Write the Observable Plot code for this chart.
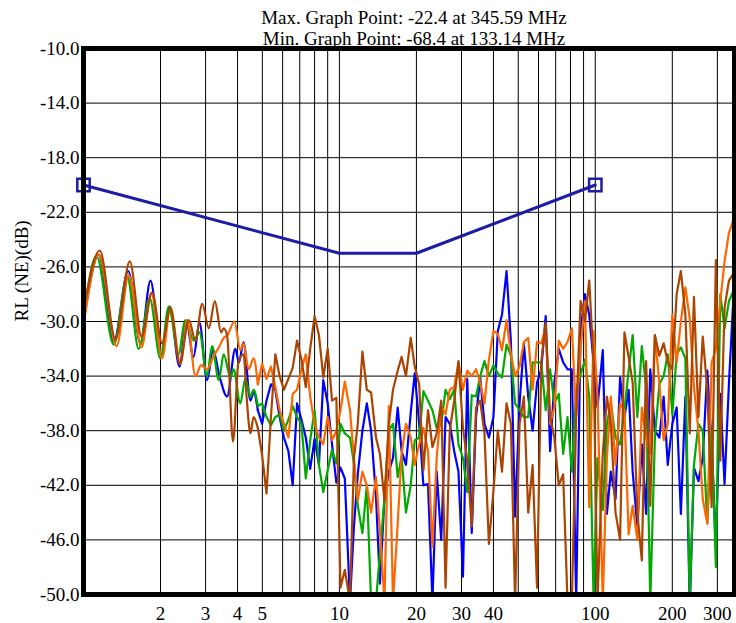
<!DOCTYPE html>
<html><head><meta charset="utf-8">
<script src="https://cdn.jsdelivr.net/npm/d3@7"></script>
<script src="https://cdn.jsdelivr.net/npm/@observablehq/plot@0.6"></script>
<style>html,body{margin:0;padding:0;background:#fff;}</style>
</head><body><div id="chart"></div>
<script>
const titleLines = ["Max. Graph Point: -22.4 at 345.59 MHz", "Min. Graph Point: -68.4 at 133.14 MHz"];
const yLabel = "RL (NE)(dB)";
const yTicks = [-10, -14, -18, -22, -26, -30, -34, -38, -42, -46, -50];
const xTickLabels = [2, 3, 4, 5, 10, 20, 30, 40, 100, 200, 300];
const xGrid = [2, 3, 4, 5, 6, 7, 8, 9, 10, 20, 30, 40, 50, 60, 70, 80, 90, 100, 200, 300];
const limitFreq = [1, 10, 20, 100];
const limitDb = [-20, -25, -25, -20];
const limitMarkerFreq = [1, 100];
const limitMarkerDb = [-20, -20];

// shared frequency grid (MHz) for the noisy part of the sweep
const freqHi = [
  4.80, 4.99, 5.19, 5.40, 5.62, 5.84, 6.07, 6.32, 6.57, 6.83,
  7.11, 7.39, 7.69, 8.00, 8.32, 8.65, 9.00, 9.36, 9.73, 10.1,
  10.5, 11.0, 11.4, 11.8, 12.3, 12.8, 13.3, 13.9, 14.4, 15.0,
  15.6, 16.2, 16.9, 17.5, 18.2, 19.0, 19.7, 20.5, 21.3, 22.2,
  23.1, 24.0, 25.0, 26.0, 27.0, 28.1, 29.2, 30.4, 31.6, 32.9,
  34.2, 35.5, 36.9, 38.4, 40.0, 41.6, 43.2, 45.0, 46.8, 48.6,
  50.6, 52.6, 54.7, 56.9, 59.2, 61.5, 64.0, 66.6, 69.2, 72.0,
  74.9, 77.9, 81.0, 84.2, 87.6, 91.1, 94.7, 98.5, 102, 107,
  111, 115, 120, 125, 130, 135, 140, 146, 152, 158,
  164, 171, 178, 185, 192, 200, 208, 216, 225, 234,
  243, 253, 263, 274, 285, 296, 308, 320, 333, 346
];

// low-frequency ripple: [MHz, dB] at peaks and troughs
const blueLo = [[1.00,-30.1],[1.147,-25.1],[1.313,-31.5],[1.495,-26.3],[1.670,-31.6],[1.827,-27.0],[2.016,-32.5],[2.174,-28.9],[2.371,-33.3],[2.525,-30.0],[2.69,-32.6],[2.84,-30.1],[3.04,-34.3],[3.21,-32.1],[3.40,-34.0],[3.64,-35.5],[3.92,-32.0],[4.05,-33.0],[4.22,-31.5],[4.49,-35.8],[4.62,-35.2]];
const greenLo = [[1.00,-29.7],[1.124,-25.2],[1.313,-31.7],[1.481,-26.7],[1.644,-32.0],[1.815,-28.3],[1.997,-32.7],[2.154,-28.9],[2.35,-32.4],[2.50,-29.9],[2.70,-31.4],[2.84,-30.8],[3.04,-34.0],[3.18,-31.8],[3.38,-34.3],[3.53,-32.4],[3.75,-34.1],[3.86,-33.5],[4.10,-36.0],[4.29,-34.2],[4.49,-35.5],[4.62,-35.0]];
const orangeLo = [[1.00,-30.3],[1.147,-25.1],[1.346,-31.8],[1.503,-26.6],[1.685,-31.9],[1.843,-27.9],[2.029,-32.7],[2.187,-29.0],[2.392,-33.1],[2.54,-29.9],[2.74,-34.0],[2.88,-33.2],[3.04,-33.5],[3.23,-32.5],[3.38,-31.9],[3.53,-31.2],[3.65,-31.0],[3.89,-30.0],[4.10,-32.1],[4.22,-31.6],[4.42,-33.5],[4.62,-32.7]];
const brownLo = [[1.00,-29.3],[1.158,-24.8],[1.333,-31.3],[1.517,-25.6],[1.685,-31.1],[1.854,-27.9],[2.029,-31.6],[2.187,-29.0],[2.378,-33.1],[2.58,-29.9],[2.74,-31.4],[2.91,-28.7],[3.09,-30.5],[3.26,-28.5],[3.45,-30.8],[3.53,-30.5],[3.64,-31.0],[3.84,-38.8],[4.03,-33.0],[4.22,-32.4],[4.35,-35.8],[4.49,-38.2],[4.62,-37.0]];

// values on freqHi
const blueHi = [
  -36.5, -37.5, -35.8, -34.6, -35.0, -37.0, -38.5, -39.5, -42.0, -36.0,
  -37.2, -38.5, -40.8, -38.6, -40.5, -34.3, -36.0, -39.0, -41.8, -40.7,
  -41.5, -50.5, -45.0, -41.2, -38.0, -36.0, -38.0, -42.8, -49.2, -43.0,
  -41.0, -40.0, -36.3, -39.5, -40.5, -36.7, -33.8, -37.5, -42.0, -41.9,
  -50.5, -41.0, -46.0, -37.0, -37.5, -39.5, -41.0, -48.7, -34.2, -45.5,
  -37.0, -34.1, -37.5, -38.5, -37.0, -30.7, -29.5, -26.3, -31.5, -44.3,
  -36.0, -31.6, -35.5, -38.0, -34.5, -33.5, -29.6, -39.5, -34.5, -32.0,
  -33.0, -33.5, -33.5, -50.5, -30.7, -28.0, -29.5, -33.0, -36.3, -32.1,
  -44.1, -41.0, -43.0, -34.1, -37.0, -35.0, -41.0, -45.0, -39.0, -44.1,
  -33.5, -38.0, -38.5, -35.5, -40.5, -37.5, -36.3, -44.1, -35.5, -51.0,
  -40.7, -41.7, -40.0, -33.6, -39.0, -46.5, -35.3, -41.9, -34.5, -28.5
];
const greenHi = [
  -36.2, -36.0, -37.0, -37.6, -37.0, -36.8, -38.0, -37.2, -36.2, -37.0,
  -37.5, -41.5, -38.7, -36.5, -40.5, -42.5, -40.9, -39.4, -40.4, -37.5,
  -38.2, -38.5, -40.4, -43.5, -45.5, -42.0, -50.5, -50.5, -47.0, -43.0,
  -38.0, -37.5, -41.4, -39.9, -44.0, -42.0, -38.7, -38.5, -35.1, -35.8,
  -36.5, -37.8, -37.5, -35.0, -35.7, -35.0, -39.0, -40.0, -42.5, -35.4,
  -35.5, -34.0, -32.9, -34.0, -33.2, -33.8, -34.1, -31.7, -32.5, -36.0,
  -36.5, -37.0, -37.0, -33.0, -33.0, -33.0, -36.5, -33.5, -36.0, -35.3,
  -39.7, -37.0, -41.0, -35.0, -33.9, -32.8, -35.5, -50.5, -40.0, -43.8,
  -37.5, -36.0, -38.5, -39.0, -36.5, -33.6, -31.0, -37.0, -31.8, -34.8,
  -50.5, -38.5, -34.6, -34.0, -32.4, -36.8, -32.4, -31.9, -32.7, -50.5,
  -40.5, -37.5, -38.0, -44.8, -38.0, -48.0, -28.0, -30.5, -28.5, -27.8
];
const orangeHi = [
  -34.6, -33.1, -34.2, -33.3, -34.8, -36.5, -37.5, -38.5, -35.3, -35.0,
  -33.5, -32.4, -35.5, -37.5, -38.5, -39.0, -37.0, -38.7, -38.0, -36.5,
  -34.4, -36.5, -40.0, -43.1, -41.0, -42.0, -44.0, -41.4, -45.3, -50.5,
  -36.2, -50.5, -44.8, -39.7, -37.5, -38.5, -40.5, -39.0, -37.8, -39.5,
  -46.5, -40.0, -36.2, -36.8, -35.0, -34.8, -33.0, -35.0, -33.6, -34.0,
  -33.5, -34.5, -36.0, -32.8, -30.7, -30.9, -32.1, -29.9, -32.4, -34.0,
  -33.3, -31.5, -31.2, -35.0, -31.5, -31.6, -30.4, -37.5, -36.3, -31.4,
  -32.0, -31.5, -30.5, -37.0, -32.0, -28.5, -43.6, -30.7, -35.5, -50.5,
  -40.0, -35.5, -40.5, -36.0, -36.5, -45.6, -43.5, -46.0, -36.3, -38.5,
  -39.7, -31.0, -34.5, -38.7, -37.5, -29.5, -33.0, -30.0, -27.5, -29.8,
  -34.8, -38.0, -43.0, -44.8, -33.0, -32.0, -28.5, -25.6, -23.5, -22.6
];
const brownHi = [
  -37.8, -39.8, -42.6, -37.0, -32.4, -34.0, -35.0, -34.2, -33.4, -31.4,
  -32.8, -34.8, -32.0, -29.6, -31.0, -34.1, -32.0, -35.8, -35.6, -49.5,
  -48.2, -50.5, -40.0, -37.5, -32.2, -35.0, -35.2, -38.5, -39.7, -43.1,
  -37.5, -35.0, -33.6, -32.6, -34.0, -31.2, -33.3, -34.6, -40.9, -36.5,
  -39.2, -38.2, -35.8, -49.5, -38.0, -35.8, -32.9, -37.8, -40.2, -45.0,
  -36.3, -35.8, -38.2, -46.3, -42.4, -38.0, -41.0, -36.0, -37.5, -50.5,
  -37.5, -35.5, -44.0, -40.5, -49.5, -33.0, -30.1, -37.0, -38.5, -42.0,
  -41.2, -50.5, -50.5, -37.0, -28.5, -30.0, -27.0, -33.0, -50.5, -39.7,
  -35.5, -37.5, -44.0, -46.0, -30.8, -32.6, -34.5, -44.0, -47.5, -32.9,
  -43.5, -31.0, -32.5, -31.6, -33.0, -33.5, -28.0, -26.3, -29.5, -38.2,
  -28.2, -37.0, -31.1, -35.0, -43.6, -25.5, -40.2, -29.0, -27.0, -26.5
];

const seriesDefs = [
  {name: "blue", color: "#0000ff", lo: blueLo, hi: blueHi},
  {name: "green", color: "#00aa00", lo: greenLo, hi: greenHi},
  {name: "orange", color: "#ff6600", lo: orangeLo, hi: orangeHi},
  {name: "brown", color: "#aa4400", lo: brownLo, hi: brownHi}
];
// smooth ripple part (includes first noisy point so the two pieces join)
function buildLo(lo, hi) {
  return lo.map(([f, v]) => ({f, v})).concat([{f: freqHi[0], v: hi[0]}]);
}
function buildHi(hi) {
  return hi.map((v, i) => ({f: freqHi[i], v}));
}
const limitData = limitFreq.map((f, i) => ({f, v: limitDb[i]}));
const markerData = limitMarkerFreq.map((f, i) => ({f, v: limitMarkerDb[i]}));
const navy = "#1c1ca6";
const font = "'Liberation Serif', 'Times New Roman', serif";
const fs = 19;

const chart = Plot.plot({
  width: 736, height: 623,
  marginLeft: 83, marginRight: 2, marginTop: 48, marginBottom: 29,
  style: {fontFamily: font, fontSize: fs + "px", background: "#fff", color: "#000", overflow: "visible"},
  x: {type: "log", domain: [1, 350], axis: null},
  y: {domain: [-50, -10], ticks: yTicks, tickFormat: d => d.toFixed(1), tickSize: 0, tickPadding: 4, label: null},
  marks: [
    Plot.ruleX(xGrid, {stroke: "#000", strokeWidth: 1}),
    Plot.ruleY(yTicks, {stroke: "#000", strokeWidth: 1}),
    ...seriesDefs.flatMap(s => [
      Plot.line(buildLo(s.lo, s.hi), {x: "f", y: "v", stroke: s.color, strokeWidth: 2.2, curve: "monotone-x", clip: true}),
      Plot.line(buildHi(s.hi), {x: "f", y: "v", stroke: s.color, strokeWidth: 2.2, strokeLinejoin: "round", clip: true})
    ]),
    Plot.line(limitData, {x: "f", y: "v", stroke: navy, strokeWidth: 3}),
    Plot.dot(markerData, {x: "f", y: "v", symbol: "square", r: 7, stroke: navy, strokeWidth: 2.5, fill: "none"}),
    Plot.frame({stroke: "#000", strokeWidth: 5}),
    Plot.text(xTickLabels, {x: d => d, text: d => String(d), frameAnchor: "bottom", lineAnchor: "middle", dy: 19, fontSize: fs, fill: "#000"}),
    Plot.text([titleLines[0]], {frameAnchor: "top", lineAnchor: "middle", dy: -31, dx: 5, fontSize: fs, fill: "#000"}),
    Plot.text([titleLines[1]], {frameAnchor: "top", lineAnchor: "middle", dy: -10, dx: 5, fontSize: fs, fill: "#000"}),
    Plot.text([yLabel], {frameAnchor: "left", rotate: -90, dx: -62, fontSize: fs, fill: "#000"})
  ]
});
document.getElementById("chart").appendChild(chart);
</script>
</body></html>
